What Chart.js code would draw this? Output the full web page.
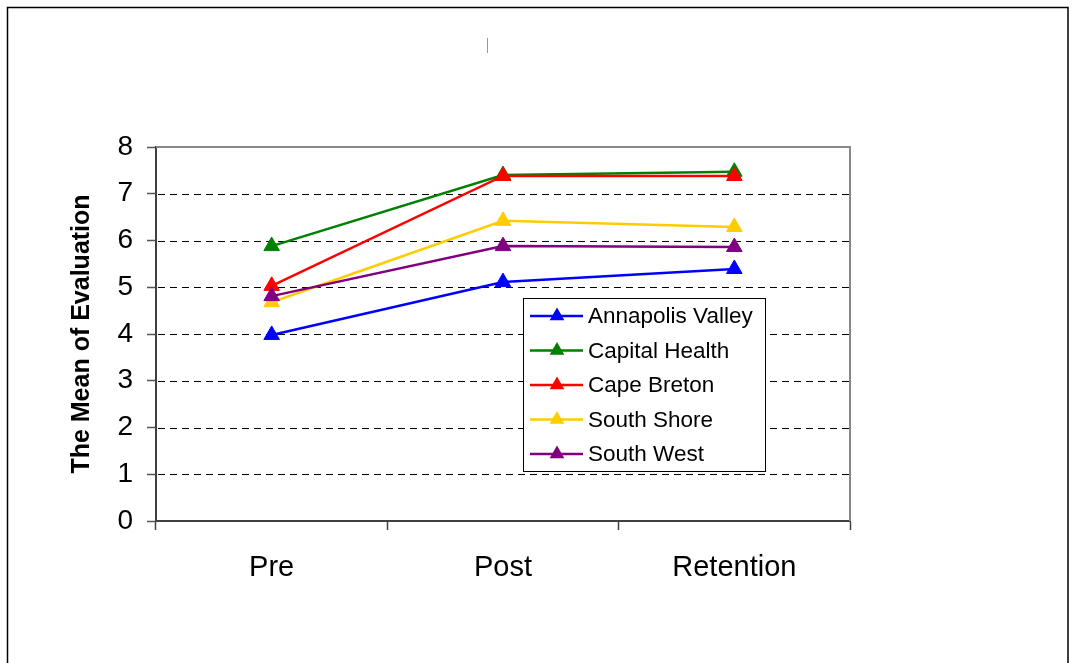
<!DOCTYPE html>
<html>
<head>
<meta charset="utf-8">
<script src="https://cdn.jsdelivr.net/npm/chart.js@4/dist/chart.umd.min.js"></script>
<style>
  html, body { margin: 0; padding: 0; background: #fff; }
  #wrap { position: relative; width: 1078px; height: 663px; }
</style>
</head>
<body>
<div id="wrap"><canvas id="c" width="1078" height="663"></canvas></div>
<script>
// Evaluation means by region across the three test points
const categories = ['Pre', 'Post', 'Retention'];
const seriesNames = ['Annapolis Valley', 'Capital Health', 'Cape Breton', 'South Shore', 'South West'];
const annapolisValley = [3.98, 5.11, 5.39];
const capitalHealth  = [5.88, 7.40, 7.47];
const capeBreton     = [5.03, 7.38, 7.38];
const southShore     = [4.68, 6.42, 6.29];
const southWest      = [4.81, 5.88, 5.86];
const yTicks = [0, 1, 2, 3, 4, 5, 6, 7, 8];

const seriesValues = [annapolisValley, capitalHealth, capeBreton, southShore, southWest];
const seriesColors = ['#0000FF', '#008000', '#FF0000', '#FFCC00', '#800080'];

const datasets = seriesNames.map((name, i) => ({
  label: name,
  data: seriesValues[i],
  borderColor: seriesColors[i],
  backgroundColor: seriesColors[i],
  borderWidth: 2.5,
  pointStyle: 'triangle',
  pointRadius: 9,
  pointHoverRadius: 9,
  pointBorderWidth: 1,
  fill: false,
  tension: 0,
  order: seriesNames.length - 1 - i
}));

const FONT = '"Liberation Sans", Arial, sans-serif';

// Dashed value gridlines, page frame, plot frame and the boxed legend
const decorations = {
  id: 'decorations',
  beforeDatasetsDraw(chart) {
    const { ctx, chartArea: a } = chart;
    const yScale = chart.scales.y;
    ctx.save();
    ctx.strokeStyle = '#000';
    ctx.lineWidth = 1;
    ctx.setLineDash([7, 5]);
    yTicks.forEach(v => {
      if (v === yScale.min || v === yScale.max) return;
      const py = Math.round(yScale.getPixelForValue(v)) + 0.5;
      ctx.beginPath();
      ctx.moveTo(a.left + 2, py);
      ctx.lineTo(a.right - 1, py);
      ctx.stroke();
    });
    ctx.setLineDash([]);
    ctx.strokeStyle = '#888888';
    ctx.lineWidth = 2;
    ctx.beginPath();
    ctx.moveTo(a.left, a.top);
    ctx.lineTo(a.right, a.top);
    ctx.lineTo(a.right, a.bottom);
    ctx.stroke();
    ctx.restore();
  },
  afterDraw(chart) {
    const { ctx } = chart;
    ctx.save();
    // outer frame
    ctx.strokeStyle = '#000';
    ctx.lineWidth = 1.5;
    ctx.beginPath();
    ctx.moveTo(7.5, 670);
    ctx.lineTo(7.5, 7.5);
    ctx.lineTo(1068, 7.5);
    ctx.lineTo(1068, 670);
    ctx.stroke();
    // small mark near the top
    ctx.strokeStyle = '#999';
    ctx.lineWidth = 1;
    ctx.beginPath();
    ctx.moveTo(487.5, 38);
    ctx.lineTo(487.5, 53);
    ctx.stroke();

    // legend box
    const bx = 523.5, by = 298.5, bw = 242, bh = 173;
    ctx.fillStyle = '#fff';
    ctx.fillRect(bx, by, bw, bh);
    ctx.strokeStyle = '#000';
    ctx.lineWidth = 1;
    ctx.strokeRect(bx, by, bw, bh);
    ctx.font = '22.5px ' + FONT;
    ctx.textBaseline = 'middle';
    ctx.textAlign = 'left';
    chart.data.datasets.forEach((ds, i) => {
      const y = 316 + i * 34.5;
      ctx.strokeStyle = ds.borderColor;
      ctx.lineWidth = 2.5;
      ctx.beginPath();
      ctx.moveTo(530, y);
      ctx.lineTo(583, y);
      ctx.stroke();
      // triangle marker
      const r = 8.5;
      ctx.fillStyle = ds.backgroundColor;
      ctx.beginPath();
      ctx.moveTo(557, y - r);
      ctx.lineTo(557 + r * 0.866, y + r * 0.5);
      ctx.lineTo(557 - r * 0.866, y + r * 0.5);
      ctx.closePath();
      ctx.fill();
      ctx.fillStyle = '#000';
      ctx.fillText(ds.label, 588, y + 1);
    });
    ctx.restore();
  }
};

const PAD_LEFT = 62, PAD_RIGHT = 1078 - 850, PAD_TOP = 147, PAD_BOTTOM = 40;

new Chart(document.getElementById('c'), {
  type: 'line',
  data: { labels: categories, datasets },
  plugins: [decorations],
  options: {
    responsive: false,
    animation: false,
    devicePixelRatio: 1,
    layout: { padding: { left: PAD_LEFT, right: PAD_RIGHT, top: PAD_TOP, bottom: PAD_BOTTOM } },
    plugins: {
      legend: { display: false },
      tooltip: { enabled: false },
      title: { display: false }
    },
    scales: {
      x: {
        type: 'category',
        offset: true,
        afterFit(scale) { scale.height = 663 - 521 - PAD_BOTTOM; },
        grid: {
          display: true,
          offset: true,
          drawOnChartArea: false,
          drawTicks: true,
          tickLength: 9,
          tickColor: '#404040',
          tickWidth: 1.5
        },
        border: { display: true, color: '#404040', width: 2 },
        ticks: {
          color: '#000',
          font: { family: FONT, size: 29 },
          padding: 21,
          maxRotation: 0
        }
      },
      y: {
        min: 0,
        max: 8,
        afterFit(scale) { scale.width = 156 - PAD_LEFT; },
        afterBuildTicks(scale) { scale.ticks = yTicks.map(v => ({ value: v })); },
        grid: {
          drawOnChartArea: false,
          drawTicks: true,
          tickLength: 9,
          tickColor: '#555',
          tickWidth: 1.5
        },
        border: { display: true, color: '#404040', width: 2 },
        ticks: {
          color: '#000',
          font: { family: FONT, size: 28 },
          padding: 14
        },
        title: {
          display: true,
          text: 'The Mean of Evaluation',
          color: '#000',
          font: { family: FONT, size: 25, weight: 'bold' },
          padding: { top: 5, bottom: 4 }
        }
      }
    }
  }
});
</script>
</body>
</html>
